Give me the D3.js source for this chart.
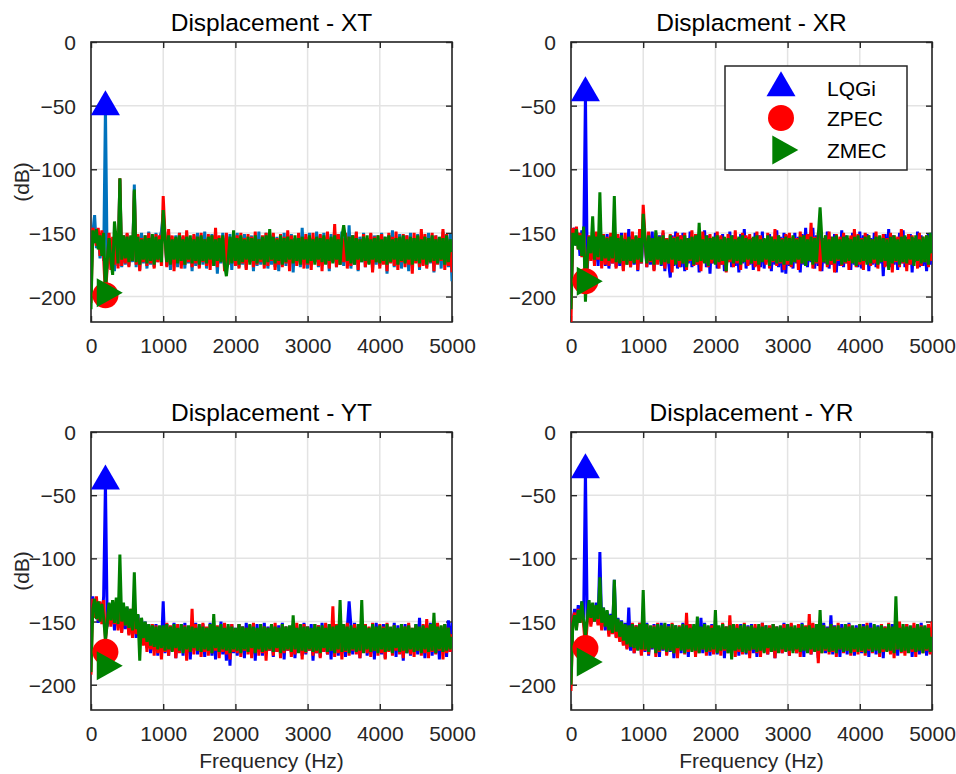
<!DOCTYPE html>
<html>
<head>
<meta charset="utf-8">
<script src="https://cdn.jsdelivr.net/npm/d3@7"></script>
<style>
  body { margin: 0; background: #fff; }
  text { font-family: "Liberation Sans", Arial, Helvetica, sans-serif; }
</style>
</head>
<body>
<svg id="chart" width="956" height="774"></svg>
<script>
// Spectrum bins are 25 Hz apart, from 0 Hz to 5000 Hz
const binHz = 25;
const xTicks = [0, 1000, 2000, 3000, 4000, 5000];
const yTicks = [0, -50, -100, -150, -200];
const seriesNames = ["LQGi", "ZPEC", "ZMEC"];
const panelTitles = ["Displacement - XT", "Displacment - XR", "Displacement - YT", "Displacement - YR"];

// Disturbance frequency and the response level of each controller there (dB)
const markerHz = 200;
const lqgiMarks = [-51, -40, -39, -30];
const zpecMarks = [-199, -188, -174, -171];
const zmecMarks = [-197, -188, -185, -182];

// ---- XT ----
const xtLQGi = [
  -190,-150,-136,-162,-150, -170,-152,-172,-51,-178, -154,-174,-157,-180,-152, -176,-108,-177,-153,-175,
  -151,-176,-154,-173,-112, -177,-152,-179,-150,-174, -155,-178,-149,-175,-153, -177,-150,-173,-154,-149,
  -135,-153,-176,-151,-179, -155,-174,-152,-177,-150, -175,-153,-178,-151,-174, -156,-180,-152,-176,-150,
  -177,-153,-175,-149,-178, -154,-173,-151,-176,-152, -182,-155,-174,-150,-177, -153,-175,-151,-179,-154,
  -174,-150,-177,-153,-175, -151,-178,-155,-173,-152, -180,-154,-176,-149,-175, -153,-174,-150,-178,-152,
  -175,-151,-177,-153,-180, -155,-174,-150,-176,-152, -175,-151,-181,-154,-173, -152,-177,-146,-175,-153,
  -178,-150,-175,-154,-173, -149,-177,-152,-176,-150, -174,-155,-180,-151,-173, -153,-177,-151,-175,-149,
  -176,-154,-173,-144,-178, -152,-175,-150,-180,-153, -173,-150,-177,-155,-174, -151,-179,-152,-175,-154,
  -176,-150,-174,-153,-182, -152,-173,-148,-177,-154, -175,-151,-178,-153,-173, -152,-180,-150,-176,-154,
  -173,-151,-179,-152,-175, -155,-177,-150,-174,-153, -181,-152,-173,-154,-178, -149,-175,-153,-177,-151,
  -188
];
const xtZPEC = [
  -205,-146,-152,-160,-146, -168,-148,-170,-199,-177, -150,-179,-153,-175,-151, -178,-107,-176,-152,-174,
  -150,-177,-153,-172,-117, -175,-151,-180,-154,-173, -152,-176,-150,-174,-153, -178,-151,-173,-152,-176,
  -121,-151,-177,-147,-174, -152,-180,-154,-172,-150, -178,-152,-175,-148,-173, -154,-177,-151,-174,-153,
  -178,-150,-173,-155,-176, -151,-179,-152,-174,-146, -177,-152,-172,-154,-180, -150,-175,-155,-173,-151,
  -176,-152,-178,-150,-174, -154,-179,-151,-172,-153, -177,-149,-175,-155,-173, -152,-178,-150,-176,-154,
  -172,-150,-179,-154,-175, -151,-177,-153,-174,-148, -180,-152,-173,-155,-176, -150,-174,-154,-178,-151,
  -175,-153,-179,-150,-173, -155,-176,-151,-180,-153, -174,-149,-178,-154,-172, -143,-177,-151,-175,-154,
  -173,-150,-178,-153,-176, -152,-174,-149,-179,-155, -172,-151,-177,-154,-174, -150,-181,-153,-173,-152,
  -178,-151,-175,-155,-180, -150,-174,-153,-176,-149, -179,-154,-173,-151,-177, -152,-175,-155,-182,-150,
  -174,-153,-177,-147,-176, -151,-178,-154,-173,-150, -180,-152,-175,-155,-172, -147,-179,-151,-176,-157,
  -181
];
const xtZMEC = [
  -210,-148,-158,-147,-163, -152,-168,-150,-197,-172, -154,-171,-183,-141,-155, -174,-107,-171,-152,-170,
  -153,-173,-152,-172,-116, -173,-153,-175,-155,-171, -152,-174,-154,-172,-151, -175,-153,-171,-155,-173,
  -132,-154,-173,-152,-175, -155,-171,-153,-174,-152, -172,-155,-175,-153,-171, -152,-174,-155,-172,-153,
  -175,-152,-172,-155,-174, -153,-171,-152,-176,-155, -172,-154,-173,-152,-175, -184,-171,-153,-174,-148,
  -172,-154,-175,-152,-173, -155,-171,-153,-175,-154, -172,-152,-174,-155,-171, -153,-175,-152,-173,-147,
  -171,-153,-174,-155,-172, -152,-175,-154,-173,-153, -171,-155,-174,-152,-172, -154,-175,-153,-171,-155,
  -174,-152,-172,-155,-175, -153,-171,-154,-173,-152, -175,-155,-172,-153,-174, -152,-171,-155,-175,-153,
  -144,-155,-172,-153,-174, -152,-175,-154,-171,-155, -173,-153,-172,-152,-175, -155,-171,-154,-173,-152,
  -174,-155,-172,-153,-175, -152,-173,-155,-171,-154, -175,-153,-172,-152,-174, -155,-171,-153,-175,-154,
  -172,-152,-174,-155,-171, -153,-175,-154,-173,-152, -172,-155,-174,-153,-171, -154,-175,-152,-173,-155,
  -165
];

// ---- XR ----
const xrLQGi = [
  -200,-152,-146,-160,-150, -168,-148,-164,-40,-178, -155,-170,-150,-174,-152, -176,-150,-173,-153,-176,
  -151,-178,-152,-174,-151, -177,-153,-176,-150,-179, -154,-173,-147,-177,-152, -175,-153,-180,-151,-174,
  -150,-155,-177,-151,-175, -149,-179,-154,-173,-152, -176,-150,-180,-154,-173, -185,-152,-176,-149,-178,
  -152,-177,-150,-180,-154, -174,-149,-177,-153,-175, -151,-181,-155,-173,-148, -177,-152,-182,-154,-174,
  -150,-178,-153,-175,-151, -180,-155,-173,-149,-177, -152,-176,-154,-181,-151, -174,-147,-178,-153,-175,
  -154,-179,-150,-176,-152, -177,-149,-178,-155,-173, -151,-180,-154,-175,-148, -177,-153,-181,-150,-182,
  -152,-176,-155,-178,-150, -174,-153,-181,-151,-175, -146,-177,-154,-173,-146, -178,-152,-176,-150,-180,
  -154,-174,-149,-178,-153, -175,-151,-181,-155,-176, -148,-177,-152,-174,-154, -179,-150,-175,-153,-177,
  -149,-178,-152,-173,-151, -180,-154,-175,-150,-177, -153,-174,-155,-184,-151, -176,-147,-177,-152,-175,
  -154,-179,-150,-174,-148, -177,-153,-175,-151,-181, -154,-173,-149,-177,-152, -176,-155,-180,-151,-175,
  -150
];
const xrZPEC = [
  -220,-146,-158,-145,-163, -150,-169,-148,-188,-176, -152,-172,-150,-176,-149, -171,-150,-178,-151,-175,
  -153,-176,-150,-174,-152, -178,-151,-172,-154,-180, -150,-175,-155,-177,-149, -173,-153,-179,-147,-174,
  -128,-152,-177,-149,-173, -155,-180,-150,-175,-153, -172,-148,-178,-154,-174, -151,-181,-153,-173,-150,
  -177,-152,-174,-150,-179, -154,-172,-148,-176,-151, -175,-155,-180,-149,-173, -153,-177,-151,-174,-155,
  -172,-149,-178,-152,-175, -154,-181,-151,-173,-153, -177,-148,-174,-155,-179, -150,-172,-152,-176,-151,
  -174,-154,-177,-149,-180, -152,-172,-155,-175,-150, -178,-153,-173,-147,-176, -152,-174,-154,-179,-151,
  -175,-150,-177,-153,-173, -154,-179,-149,-174,-152, -176,-151,-172,-142,-178, -153,-174,-150,-180,-154,
  -173,-152,-177,-149,-175, -155,-181,-151,-172,-153, -176,-150,-174,-154,-179, -152,-173,-147,-177,-151,
  -175,-154,-179,-150,-173, -152,-176,-155,-174,-149, -178,-153,-172,-151,-177, -154,-175,-150,-181,-152,
  -173,-153,-177,-147,-174, -154,-180,-151,-175,-152, -172,-155,-178,-150,-176, -153,-173,-152,-177,-154,
  -172
];
const xrZMEC = [
  -210,-150,-160,-147,-163, -152,-168,-145,-204,-170, -153,-166,-137,-171,-153, -169,-118,-172,-152,-170,
  -154,-172,-153,-170,-121, -173,-154,-174,-152,-172, -155,-175,-153,-172,-155, -174,-152,-171,-154,-173,
  -135,-155,-174,-152,-172, -154,-175,-148,-171,-153, -175,-152,-173,-155,-174, -152,-171,-154,-175,-153,
  -172,-155,-174,-152,-177, -154,-171,-153,-175,-152, -173,-142,-172,-155,-174, -152,-176,-154,-171,-153,
  -175,-152,-173,-155,-172, -153,-180,-154,-171,-152, -174,-155,-172,-153,-175, -152,-173,-154,-171,-155,
  -174,-153,-172,-152,-175, -155,-173,-154,-171,-152, -176,-153,-172,-155,-174, -152,-173,-155,-175,-153,
  -172,-154,-175,-152,-173, -155,-171,-153,-174,-152, -176,-155,-172,-153,-175, -154,-173,-152,-130,-155,
  -173,-152,-175,-155,-172, -153,-174,-152,-171,-155, -175,-153,-173,-152,-172, -155,-174,-153,-176,-152,
  -173,-155,-172,-153,-175, -152,-174,-155,-171,-153, -175,-152,-173,-154,-172, -155,-179,-153,-174,-152,
  -172,-155,-175,-153,-173, -152,-174,-155,-171,-153, -176,-152,-172,-155,-174, -153,-173,-152,-175,-150,
  -166
];

// ---- YT ----
const ytLQGi = [
  -152,-130,-146,-132,-151, -135,-149,-130,-39,-154, -136,-152,-134,-157,-138, -153,-136,-158,-141,-156,
  -139,-160,-142,-158,-137, -163,-145,-165,-148,-168, -150,-171,-152,-175,-153, -173,-152,-177,-154,-172,
  -134,-175,-152,-177,-154, -173,-151,-179,-155,-174, -152,-177,-151,-175,-155, -180,-153,-173,-151,-176,
  -154,-174,-152,-178,-155, -173,-151,-177,-153,-180, -156,-174,-150,-176,-154, -181,-155,-185,-152,-175,
  -155,-177,-152,-174,-154, -179,-151,-173,-155,-176, -153,-181,-152,-174,-156, -177,-151,-175,-154,-173,
  -152,-178,-155,-174,-153, -176,-151,-180,-154,-173, -156,-175,-152,-179,-155, -174,-153,-177,-151,-176,
  -154,-173,-152,-181,-155, -175,-153,-178,-151,-174, -156,-176,-152,-180,-154, -173,-155,-177,-153,-175,
  -152,-178,-155,-134,-153, -176,-151,-174,-156,-179, -154,-173,-152,-177,-155, -175,-153,-180,-151,-174,
  -155,-176,-152,-179,-154, -173,-156,-175,-151,-178, -153,-174,-155,-181,-152, -175,-154,-177,-156,-173,
  -152,-176,-147,-174,-155, -179,-153,-173,-151,-177, -154,-175,-152,-180,-155, -173,-153,-178,-149,-174,
  -151
];
const ytZPEC = [
  -192,-132,-147,-130,-149, -134,-152,-133,-165,-150, -137,-154,-133,-152,-139, -157,-137,-159,-141,-153,
  -144,-161,-140,-163,-143, -160,-147,-166,-150,-169, -151,-174,-154,-172,-152, -177,-153,-175,-155,-180,
  -155,-174,-151,-177,-153, -173,-154,-179,-152,-175, -156,-172,-153,-181,-155, -174,-140,-176,-152,-173,
  -155,-178,-151,-174,-154, -177,-152,-175,-156,-173, -153,-179,-155,-174,-151, -176,-154,-180,-152,-174,
  -156,-175,-152,-178,-154, -173,-155,-176,-153,-179, -151,-174,-156,-177,-152, -175,-154,-181,-155,-173,
  -153,-177,-151,-174,-155, -179,-152,-175,-154,-173, -156,-178,-153,-176,-151, -174,-155,-180,-152,-175,
  -154,-173,-156,-177,-152, -175,-153,-179,-155,-174, -151,-176,-154,-173,-138, -178,-152,-175,-155,-180,
  -153,-174,-151,-177,-155, -173,-152,-176,-154,-179, -156,-174,-152,-175,-154, -178,-151,-173,-155,-177,
  -152,-175,-154,-180,-151, -174,-155,-177,-153,-173, -156,-176,-152,-179,-154, -174,-151,-176,-155,-178,
  -153,-173,-155,-177,-152, -175,-148,-179,-153,-174, -155,-176,-151,-173,-154, -180,-152,-175,-155,-174,
  -160
];
const ytZMEC = [
  -190,-140,-132,-148,-134, -150,-136,-147,-165,-151, -135,-149,-133,-151,-131, -152,-97,-150,-135,-153,
  -138,-155,-140,-157,-111, -156,-144,-181,-147,-163, -150,-166,-152,-169,-153, -170,-154,-172,-153,-171,
  -153,-173,-152,-172,-154, -174,-152,-171,-155,-173, -152,-175,-154,-172,-153, -174,-154,-171,-155,-173,
  -152,-174,-154,-172,-155, -173,-152,-175,-144,-171, -154,-174,-152,-172,-155, -173,-152,-175,-154,-172,
  -155,-173,-152,-175,-154, -172,-155,-174,-152,-171, -154,-175,-155,-172,-152, -174,-154,-173,-155,-172,
  -152,-174,-154,-171,-155, -175,-152,-173,-154,-172, -153,-174,-145,-172,-155, -175,-152,-173,-154,-174,
  -154,-172,-155,-174,-152, -173,-154,-175,-153,-171, -155,-174,-152,-173,-154, -175,-153,-172,-133,-174,
  -152,-173,-154,-175,-153, -172,-155,-174,-152,-173, -133,-175,-153,-172,-155, -174,-152,-173,-154,-175,
  -153,-172,-155,-174,-152, -173,-154,-175,-153,-171, -155,-174,-152,-173,-154, -175,-153,-172,-155,-174,
  -152,-173,-154,-175,-153, -172,-155,-174,-152,-173, -143,-175,-154,-172,-153, -174,-152,-173,-155,-172,
  -162
];

// ---- YR ----
const yrLQGi = [
  -185,-150,-140,-153,-137, -150,-134,-147,-30,-150, -136,-152,-138,-148,-135, -152,-95,-154,-139,-157,
  -142,-160,-144,-159,-117, -162,-147,-165,-149,-168, -151,-171,-139,-173,-152, -175,-153,-172,-151,-176,
  -153,-174,-151,-177,-154, -172,-152,-175,-155,-178, -151,-173,-154,-176,-152, -174,-156,-179,-153,-172,
  -155,-175,-151,-173,-154, -178,-152,-172,-155,-176, -153,-174,-147,-175,-151, -173,-154,-177,-152,-174,
  -153,-176,-155,-172,-152, -179,-154,-173,-151,-175, -156,-172,-153,-177,-152, -174,-155,-176,-153,-173,
  -152,-175,-154,-178,-155, -172,-151,-174,-153,-176, -156,-173,-152,-179,-154, -172,-155,-175,-151,-173,
  -154,-177,-152,-173,-155, -175,-153,-172,-151,-178, -154,-174,-156,-176,-152, -173,-155,-179,-153,-172,
  -151,-175,-154,-173,-145, -176,-153,-172,-155,-178, -152,-174,-154,-176,-151, -173,-155,-177,-153,-172,
  -155,-175,-152,-173,-154, -178,-151,-172,-155,-176, -153,-174,-152,-179,-154, -173,-156,-175,-152,-172,
  -154,-177,-151,-173,-155, -175,-152,-172,-154,-178, -153,-174,-155,-176,-151, -173,-154,-177,-152,-175,
  -158
];
const yrZPEC = [
  -205,-148,-143,-156,-140, -151,-138,-153,-171,-151, -139,-154,-141,-150,-137, -153,-140,-157,-142,-152,
  -145,-162,-147,-160,-143, -163,-149,-166,-151,-169, -153,-172,-155,-170,-151, -175,-153,-172,-151,-177,
  -155,-173,-152,-176,-154, -171,-153,-178,-151,-174, -155,-172,-152,-177,-154, -173,-151,-175,-156,-179,
  -153,-172,-155,-176,-143, -174,-152,-173,-154,-178, -151,-175,-155,-172,-152, -177,-154,-174,-153,-176,
  -152,-174,-155,-177,-151, -173,-154,-175,-145,-172, -153,-178,-152,-174,-155, -176,-151,-173,-154,-179,
  -155,-172,-152,-175,-154, -178,-151,-173,-155,-176, -153,-174,-152,-179,-154, -172,-156,-175,-152,-173,
  -154,-177,-151,-173,-155, -175,-152,-178,-154,-172, -153,-174,-144,-176,-151, -173,-155,-183,-152,-175,
  -153,-173,-155,-176,-152, -174,-154,-178,-151,-172, -155,-175,-153,-173,-152, -177,-154,-174,-155,-176,
  -152,-174,-154,-177,-151, -173,-155,-175,-153,-172, -156,-178,-152,-174,-154, -173,-151,-176,-155,-179,
  -153,-172,-150,-175,-154, -177,-152,-173,-155,-174, -151,-178,-154,-172,-153, -175,-155,-173,-152,-176,
  -150
];
const yrZMEC = [
  -200,-152,-145,-157,-141, -151,-134,-149,-162,-148, -133,-147,-135,-150,-137, -148,-115,-151,-139,-154,
  -141,-157,-145,-159,-117, -158,-148,-162,-150,-165, -152,-168,-153,-170,-152, -171,-154,-173,-152,-172,
  -125,-172,-152,-174,-153, -171,-154,-175,-152,-173, -153,-172,-151,-174,-154, -173,-152,-175,-153,-171,
  -154,-173,-152,-175,-153, -172,-155,-174,-152,-173, -146,-175,-154,-172,-152, -174,-153,-173,-155,-172,
  -141,-175,-153,-173,-152, -172,-154,-175,-153,-180, -152,-173,-155,-172,-153, -174,-152,-175,-154,-173,
  -153,-172,-155,-174,-152, -173,-154,-175,-153,-171, -155,-174,-152,-173,-154, -175,-153,-172,-155,-174,
  -152,-173,-154,-175,-153, -172,-155,-174,-152,-173, -154,-175,-153,-172,-155, -174,-152,-173,-141,-175,
  -153,-172,-155,-174,-152, -173,-154,-175,-153,-172, -155,-174,-152,-173,-154, -175,-153,-172,-155,-174,
  -152,-173,-154,-175,-153, -172,-155,-174,-152,-173, -154,-175,-153,-172,-155, -174,-152,-173,-154,-175,
  -130,-172,-155,-174,-152, -173,-154,-175,-153,-172, -155,-174,-152,-173,-154, -175,-153,-172,-155,-174,
  -162
];

// ---- drawing ----
const svg = d3.select("#chart");
const axisColor = "#262626";
const gridColor = "#e3e3e3";
const seriesColors = ["#0000ff", "#ff0000", "#008000"];

const panels = [
  { title: panelTitles[0], data: [xtLQGi, xtZPEC, xtZMEC], lqgiLine: "#0072bd", marks: [lqgiMarks[0], zpecMarks[0], zmecMarks[0]],
    frame: { x: 91, y: 42, w: 361, h: 280 }, ylabel: true, xlabel: false, legend: false },
  { title: panelTitles[1], data: [xrLQGi, xrZPEC, xrZMEC], lqgiLine: "#0000ff", marks: [lqgiMarks[1], zpecMarks[1], zmecMarks[1]],
    frame: { x: 571, y: 42, w: 361, h: 280 }, ylabel: false, xlabel: false, legend: true },
  { title: panelTitles[2], data: [ytLQGi, ytZPEC, ytZMEC], lqgiLine: "#0000ff", marks: [lqgiMarks[2], zpecMarks[2], zmecMarks[2]],
    frame: { x: 91, y: 432, w: 361, h: 278 }, ylabel: true, xlabel: true, legend: false },
  { title: panelTitles[3], data: [yrLQGi, yrZPEC, yrZMEC], lqgiLine: "#0000ff", marks: [lqgiMarks[3], zpecMarks[3], zmecMarks[3]],
    frame: { x: 571, y: 432, w: 361, h: 278 }, ylabel: false, xlabel: true, legend: false }
];

// triangles are placed by their centroid, circles by their centre
function markerPath(kind, cx, cy) {
  if (kind === 0) return `M${cx},${cy - 16.7}L${cx + 14.5},${cy + 8.3}L${cx - 14.5},${cy + 8.3}Z`;
  return `M${cx + 17.3},${cy}L${cx - 8.7},${cy - 14.5}L${cx - 8.7},${cy + 14.5}Z`;
}
function drawMarker(g, kind, cx, cy) {
  if (kind === 1) {
    g.append("circle").attr("cx", cx).attr("cy", cy).attr("r", 13).attr("fill", seriesColors[1]);
  } else {
    g.append("path").attr("d", markerPath(kind, cx, cy)).attr("fill", seriesColors[kind]);
  }
}

panels.forEach((p, pi) => {
  const { x: fx, y: fy, w, h } = p.frame;
  const g = svg.append("g").attr("transform", `translate(${fx},${fy})`);
  const x = d3.scaleLinear().domain([0, 5000]).range([0, w]);
  const y = d3.scaleLinear().domain([-220, 0]).range([h, 0]);

  // grid
  g.append("g").selectAll("line").data(xTicks).join("line")
    .attr("x1", d => x(d)).attr("x2", d => x(d)).attr("y1", 0).attr("y2", h)
    .attr("stroke", gridColor).attr("stroke-width", 1.5);
  g.append("g").selectAll("line").data(yTicks).join("line")
    .attr("x1", 0).attr("x2", w).attr("y1", d => y(d)).attr("y2", d => y(d))
    .attr("stroke", gridColor).attr("stroke-width", 1.5);

  // axes: labels from d3 axes, inward ticks on all four sides
  const tickLen = 6;
  const bottom = g.append("g").attr("transform", `translate(0,${h})`)
    .call(d3.axisBottom(x).tickValues(xTicks).tickFormat(d3.format("d")).tickSize(-tickLen).tickPadding(16));
  const top = g.append("g")
    .call(d3.axisTop(x).tickValues(xTicks).tickFormat("").tickSize(-tickLen));
  const left = g.append("g")
    .call(d3.axisLeft(y).tickValues(yTicks).tickFormat(d3.format("d")).tickSize(-tickLen).tickPadding(15));
  const right = g.append("g").attr("transform", `translate(${w},0)`)
    .call(d3.axisRight(y).tickValues(yTicks).tickFormat("").tickSize(-tickLen));
  [bottom, top, left, right].forEach(a => {
    a.select(".domain").remove();
    a.selectAll(".tick line").attr("stroke", axisColor).attr("stroke-width", 1.4);
    a.selectAll("text").attr("fill", axisColor).style("font-size", "21px")
      .style("font-family", "'Liberation Sans', Arial, sans-serif");
  });
  bottom.selectAll("text").attr("dy", "0.71em");
  left.selectAll("text").attr("dy", "0.36em");

  g.append("rect").attr("x", 0).attr("y", 0).attr("width", w).attr("height", h)
    .attr("fill", "none").attr("stroke", axisColor).attr("stroke-width", 1.6);

  // spectra
  const clipId = `clip${pi}`;
  g.append("clipPath").attr("id", clipId).append("rect").attr("width", w).attr("height", h);
  const line = d3.line().x((d, i) => x(i * binHz)).y(d => y(d));
  const lines = g.append("g").attr("clip-path", `url(#${clipId})`);
  p.data.forEach((vals, si) => {
    lines.append("path").datum(vals).attr("d", line)
      .attr("fill", "none")
      .attr("stroke", si === 0 ? p.lqgiLine : seriesColors[si])
      .attr("stroke-width", 3)
      .attr("stroke-linejoin", "miter");
  });

  // level at the disturbance frequency
  p.marks.forEach((v, si) => drawMarker(g, si, x(markerHz), y(v)));

  // title
  svg.append("text").attr("x", fx + w / 2).attr("y", fy - 11.5)
    .attr("text-anchor", "middle").attr("fill", "#000").style("font-size", "24.5px")
    .text(p.title);

  if (p.ylabel) {
    svg.append("text")
      .attr("transform", `translate(${fx - 69},${fy + h / 2}) rotate(-90)`)
      .attr("text-anchor", "middle").attr("dy", "0.35em").attr("fill", axisColor)
      .style("font-size", "21px").text("(dB)");
  }
  if (p.xlabel) {
    svg.append("text").attr("x", fx + w / 2).attr("y", 768)
      .attr("text-anchor", "middle").attr("fill", axisColor)
      .style("font-size", "21px").text("Frequency (Hz)");
  }

  if (p.legend) {
    const lg = svg.append("g");
    lg.append("rect").attr("x", 725).attr("y", 66).attr("width", 182).attr("height", 104)
      .attr("fill", "#fff").attr("stroke", axisColor).attr("stroke-width", 1.5);
    const rows = [88, 118, 150];
    seriesNames.forEach((name, si) => {
      drawMarker(lg, si, 781, rows[si]);
      lg.append("text").attr("x", 827).attr("y", rows[si]).attr("dy", "0.36em")
        .attr("fill", "#000").style("font-size", "21px").text(name);
    });
  }
});
</script>
</body>
</html>
